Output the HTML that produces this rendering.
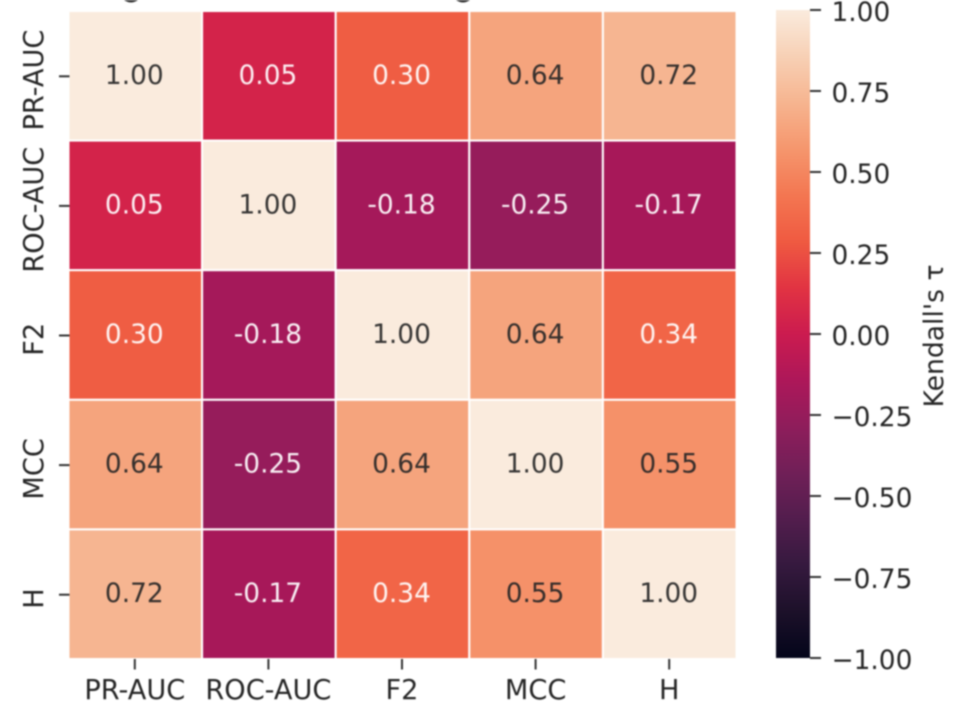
<!DOCTYPE html>
<html lang="en">
<head>
<meta charset="utf-8">
<title>Kendall's tau heatmap</title>
<style>
  html, body { margin: 0; padding: 0; background: #fff; width: 956px; height: 710px; overflow: hidden; }
  svg { display: block; filter: blur(0.7px); }
  text { font-family: "DejaVu Sans", "Liberation Sans", sans-serif; fill: #262626; }
</style>
</head>
<body>
<svg id="chart" xmlns="http://www.w3.org/2000/svg" width="956" height="710" viewBox="0 0 956 710">
  <defs>
    <linearGradient id="rocket-gradient" x1="0" y1="1" x2="0" y2="0"></linearGradient>
  </defs>
  <path d="M124 0 Q131 5 138 0 Z" fill="#333"></path>
  <path d="M456 0 Q463 5 470 0 Z" fill="#333"></path>
  <g id="cells"></g>
  <g id="x-axis"></g>
  <g id="y-axis"></g>
  <g id="colorbar"></g>
  <text transform="translate(943 336) rotate(-90)" text-anchor="middle" font-size="26.6">Kendall's τ</text>
</svg>
<script>
const metricLabels = ['PR-AUC', 'ROC-AUC', 'F2', 'MCC', 'H'];
const rowPrAuc = [1.00, 0.05, 0.30, 0.64, 0.72];
const rowRocAuc = [0.05, 1.00, -0.18, -0.25, -0.17];
const rowF2 = [0.30, -0.18, 1.00, 0.64, 0.34];
const rowMcc = [0.64, -0.25, 0.64, 1.00, 0.55];
const rowH = [0.72, -0.17, 0.34, 0.55, 1.00];
const colorbarTicks = [1, 0.75, 0.5, 0.25, 0, -0.25, -0.5, -0.75, -1];
const valueMin = -1;
const valueMax = 1;

const rocketStops = [
  [0, '#03051a'], [0.0714, '#1c1029'], [0.143, '#35193e'], [0.214, '#521d4d'],
  [0.286, '#701f57'], [0.357, '#8e1d5b'], [0.429, '#ad1759'], [0.5, '#cb1b4f'],
  [0.571, '#e13342'], [0.643, '#ef5a41'], [0.714, '#f37651'], [0.786, '#f5966d'],
  [0.857, '#f6b48f'], [0.929, '#f7d0b5'], [1, '#faebdd']
];

const NS = 'http://www.w3.org/2000/svg';
const plotLeft = 68.5, plotRight = 736.5, plotTop = 11, plotBottom = 659;
const barLeft = 776, barRight = 810, barTop = 10, barBottom = 658;
const matrix = [rowPrAuc, rowRocAuc, rowF2, rowMcc, rowH];

function hexToRgb(h) {
  return [1, 3, 5].map(function (i) { return parseInt(h.slice(i, i + 2), 16); });
}
function norm(v) { return (v - valueMin) / (valueMax - valueMin); }
function colorRgb(v) {
  const t = Math.max(0, Math.min(1, norm(v)));
  for (let i = 1; i < rocketStops.length; i++) {
    if (t <= rocketStops[i][0]) {
      const a = rocketStops[i - 1], b = rocketStops[i];
      const f = (t - a[0]) / (b[0] - a[0]);
      const ca = hexToRgb(a[1]), cb = hexToRgb(b[1]);
      return ca.map(function (c, k) { return c + (cb[k] - c) * f; });
    }
  }
  return hexToRgb(rocketStops[rocketStops.length - 1][1]);
}
function luminance(rgb) {
  const l = rgb.map(function (c) {
    const s = c / 255;
    return s <= 0.03928 ? s / 12.92 : Math.pow((s + 0.055) / 1.055, 2.4);
  });
  return 0.2126 * l[0] + 0.7152 * l[1] + 0.0722 * l[2];
}
function xBand(i) { return plotLeft + (plotRight - plotLeft) * i / metricLabels.length; }
function yBand(i) { return plotTop + (plotBottom - plotTop) * i / metricLabels.length; }
function barY(v) { return barBottom - norm(v) * (barBottom - barTop); }
function make(tag, attrs, parent, txt) {
  const el = document.createElementNS(NS, tag);
  for (const k in attrs) el.setAttribute(k, attrs[k]);
  if (txt !== undefined) el.textContent = txt;
  parent.appendChild(el);
  return el;
}

const cellsG = document.getElementById('cells');
const bandW = xBand(1) - xBand(0);
const bandH = yBand(1) - yBand(0);
matrix.forEach(function (row, r) {
  row.forEach(function (value, c) {
    const rgb = colorRgb(value);
    const cell = make('rect', {
      x: xBand(c), y: yBand(r), width: bandW, height: bandH,
      fill: 'rgb(' + rgb.map(Math.round).join(',') + ')',
      stroke: '#ffffff', 'stroke-width': 2
    }, cellsG);
    
    
    const label = make('text', {
      x: xBand(c) + bandW / 2 - 1, y: yBand(r) + bandH / 2 + 8,
      'text-anchor': 'middle', 'font-size': 26.4,
      style: 'fill:' + (luminance(rgb) > 0.385 ? '#262626' : '#ffffff') + ';fill-opacity:0.92'
    }, cellsG, value.toFixed(2));
    
    
  });
});

const xG = document.getElementById('x-axis');
const yG = document.getElementById('y-axis');
metricLabels.forEach(function (name, i) {
  const cx = xBand(i) + bandW / 2 - 0.5;
  const cy = yBand(i) + bandH / 2 + 0.5;
  const xt = make('line', { x1: cx, x2: cx, y1: plotBottom, y2: plotBottom + 10.5, stroke: '#333', 'stroke-width': 2 }, xG);
  
  
  const xl = make('text', { x: cx, y: 699, 'text-anchor': 'middle', 'font-size': 27.2 }, xG, name);
  
  
  const yt = make('line', { x1: plotLeft - 9.5, x2: plotLeft + 1, y1: cy, y2: cy, stroke: '#333', 'stroke-width': 2 }, yG);
  
  
  const yl = make('text', { transform: 'translate(43 ' + (cy + 3.8) + ') rotate(-90)', 'text-anchor': 'middle', 'font-size': 27.2 }, yG, name);
  
  
});

const grad = document.getElementById('rocket-gradient');
rocketStops.forEach(function (s) {
  make('stop', { offset: s[0], 'stop-color': s[1] }, grad);
});
const cbG = document.getElementById('colorbar');
const barRect = make('rect', {
  x: barLeft, y: barTop, width: barRight - barLeft, height: barBottom - barTop,
  fill: 'url(#rocket-gradient)'
}, cbG);


colorbarTicks.forEach(function (v) {
  const y = barY(v);
  const t = make('line', { x1: barRight, x2: barRight + 11, y1: y, y2: y, stroke: '#333', 'stroke-width': 2 }, cbG);
  
  
  const txt = (v < 0 ? '\u2212' : '') + Math.abs(v).toFixed(2);
  const l = make('text', { x: 831.5, y: y + 11, 'font-size': 26.4 }, cbG, txt);
  
  
});
</script>
</body>
</html>
